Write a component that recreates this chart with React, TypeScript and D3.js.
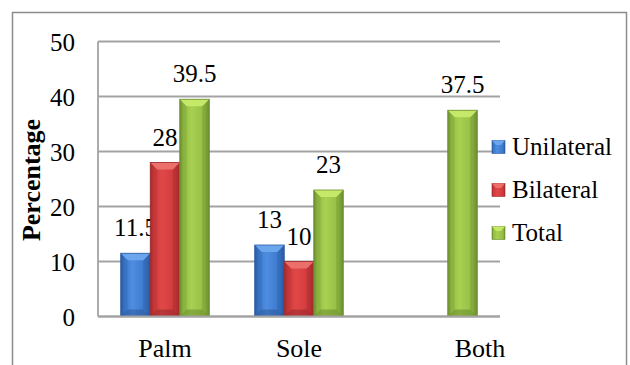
import React from "react";
import * as d3 from "d3";

const categories = ["Palm", "Sole", "Both"];
const seriesNames = ["Unilateral", "Bilateral", "Total"];
const unilateral: (number | null)[] = [11.5, 13, null];
const bilateral: (number | null)[] = [28, 10, null];
const total: (number | null)[] = [39.5, 23, 37.5];
const yTicks = [0, 10, 20, 30, 40, 50];

const seriesValues = [unilateral, bilateral, total];
const palette = [
  { light: "#4f8de0", mid: "#3b78cc", dark: "#2a5a9e", top: "#6ea8ee", bottom: "#24508c" },
  { light: "#e04848", mid: "#d0393b", dark: "#9e2a2c", top: "#ec726e", bottom: "#8a2426" },
  { light: "#a8d152", mid: "#93bd43", dark: "#6c8e2f", top: "#c8ea6c", bottom: "#5e7e28" },
];

const W = 630;
const H = 365;
const plot = { left: 98, right: 500, top: 41.5, bottom: 316.5 };
const FONT = "Liberation Serif";

export default function App() {
  const x0 = d3.scaleBand<string>().domain(categories).range([plot.left, plot.right]).paddingInner(0).paddingOuter(0);
  const x1 = d3.scaleBand<string>().domain(seriesNames).range([0, x0.bandwidth()]).paddingInner(0).paddingOuter(0.77);
  const y = d3.scaleLinear().domain([0, 50]).range([plot.bottom, plot.top]);
  const grid = "#a3a3a3";
  const bw = x1.bandwidth();
  const bev = 7;

  return (
    <svg width={W} height={H} style={{ position: "absolute", left: 0, top: 0, background: "#fff" }}>
      <defs>
        {palette.map((p, i) => (
          <linearGradient key={i} id={`g${i}`} x1="0" x2="1" y1="0" y2="0">
            <stop offset="0" stopColor={p.dark} />
            <stop offset="0.12" stopColor={p.mid} />
            <stop offset="0.4" stopColor={p.light} />
            <stop offset="0.85" stopColor={p.mid} />
            <stop offset="1" stopColor={p.dark} />
          </linearGradient>
        ))}
      </defs>
      <rect x={12.5} y={12.5} width={614} height={400} fill="none" stroke="#8c8c8c" strokeWidth={1.5} />
      {yTicks.map((t) => (
        <g key={t}>
          <line x1={plot.left} x2={plot.right} y1={y(t)} y2={y(t)} stroke={grid} strokeWidth={1.8} />
          <text x={75} y={y(t) + 9.5} textAnchor="end" fontFamily={FONT} fontSize={25} fill="#000">
            {t}
          </text>
        </g>
      ))}
      <line x1={plot.left} x2={plot.left} y1={plot.top} y2={plot.bottom} stroke={grid} strokeWidth={1.8} />
      {seriesValues.map((vals, si) =>
        vals.map((v, ci) => {
          if (v === null) return null;
          const xb = (x0(categories[ci]) as number) + (x1(seriesNames[si]) as number);
          const yt = y(v);
          const h = plot.bottom - yt;
          const p = palette[si];
          const b = Math.min(bev, h / 2);
          return (
            <g key={`${si}-${ci}`}>
              <rect x={xb} y={yt} width={bw} height={h} fill={`url(#g${si})`} />
              <path
                d={`M${xb},${yt}L${xb + b},${yt + b}L${xb + b},${plot.bottom - b}L${xb},${plot.bottom}Z`}
                fill={p.dark}
                opacity={0.25}
              />
              <path
                d={`M${xb + bw},${yt}L${xb + bw - b},${yt + b}L${xb + bw - b},${plot.bottom - b}L${xb + bw},${plot.bottom}Z`}
                fill={p.dark}
                opacity={0.4}
              />
              <path
                d={`M${xb},${yt}L${xb + bw},${yt}L${xb + bw - b},${yt + b}L${xb + b},${yt + b}Z`}
                fill={p.top}
                opacity={0.95}
              />
              <path
                d={`M${xb},${plot.bottom}L${xb + b},${plot.bottom - b}L${xb + bw - b},${plot.bottom - b}L${xb + bw},${plot.bottom}Z`}
                fill={p.bottom}
                opacity={0.45}
              />
              <rect x={xb} y={yt} width={bw} height={h} fill="none" stroke={p.dark} strokeWidth={0.8} />
              <text x={xb + bw / 2} y={yt - 17} textAnchor="middle" fontFamily={FONT} fontSize={25} fill="#000">
                {v}
              </text>
            </g>
          );
        })
      )}
      <line x1={plot.left} x2={plot.right} y1={plot.bottom} y2={plot.bottom} stroke={grid} strokeWidth={1.8} />
      {categories.map((c, i) => (
        <text
          key={c}
          x={(x0(c) as number) + x0.bandwidth() / 2 + (i === 2 ? 47 : 0)}
          y={357}
          textAnchor="middle"
          fontFamily={FONT}
          fontSize={26}
          fill="#000"
        >
          {c}
        </text>
      ))}
      <text
        transform={`translate(40,180) rotate(-90)`}
        textAnchor="middle"
        fontFamily={FONT}
        fontSize={26}
        fontWeight="bold"
        fill="#000"
      >
        Percentage
      </text>
      {seriesNames.map((s, i) => {
        const cy = 147 + i * 43;
        const p = palette[i];
        return (
          <g key={s}>
            <rect x={492} y={cy - 6.5} width={13} height={13} fill={`url(#g${i})`} stroke={p.dark} strokeWidth={0.6} />
            <path d={`M492,${cy - 6.5}L505,${cy - 6.5}L501,${cy - 2}L496,${cy - 2}Z`} fill={p.top} opacity={0.95} />
            <text x={512} y={cy + 8} fontFamily={FONT} fontSize={25} fill="#000">
              {s}
            </text>
          </g>
        );
      })}
    </svg>
  );
}
